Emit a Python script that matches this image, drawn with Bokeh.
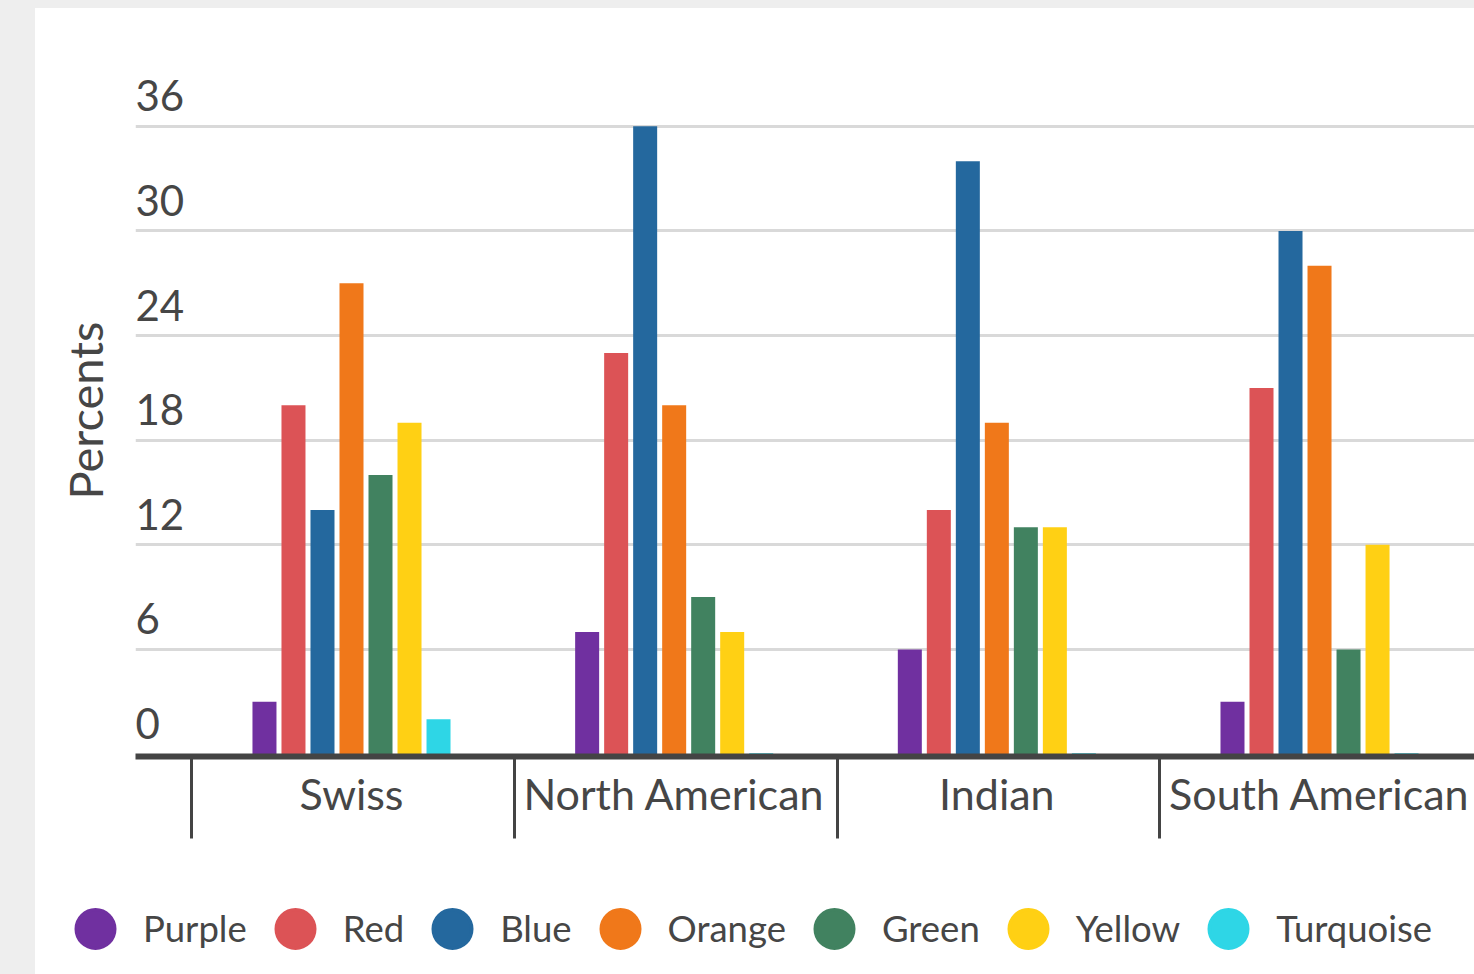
from bokeh.core.properties import value
from bokeh.embed import file_html
from bokeh.layouts import column
from bokeh.models import (ColumnDataSource, FixedTicker, Grid, Legend, LegendItem,
                          LinearAxis, Range1d, Title)
from bokeh.plotting import figure
from bokeh.resources import INLINE
from bokeh.transform import dodge

# ---- data -----------------------------------------------------------------
cuisines = ["Swiss", "North American", "Indian", "South American"]
series = ["Purple", "Red", "Blue", "Orange", "Green", "Yellow", "Turquoise"]

purple = [3, 7, 6, 3]
red = [20, 23, 14, 21]
blue = [14, 36, 34, 30]
orange = [27, 20, 19, 28]
green = [16, 9, 13, 6]
yellow = [19, 7, 13, 12]
turquoise = [2, 0.05, 0.05, 0.05]

colors = ["#7030a0", "#dc5356", "#24689e", "#f0781a", "#418260", "#ffd014", "#2ed6e6"]
y_ticks = [0, 6, 12, 18, 24, 30, 36]

# ---- styling ----------------------------------------------------------------
FONT = "Lato"
TEXT = "#464646"
AXIS = "#444444"
WIDTH = 1439
CHART_H = 850
LEGEND_H = 116

values = [purple, red, blue, orange, green, yellow, turquoise]
group_idx = list(range(len(cuisines)))

x_lo, x_hi = -0.6694, 3.4803
p = figure(width=WIDTH, height=CHART_H, output_backend="svg", toolbar_location=None,
           x_range=Range1d(x_lo, x_hi), y_range=Range1d(-0.1434, 42.76),
           x_axis_type=None, y_axis_type=None,
           min_border_left=100, min_border_right=0, min_border_top=0,
           min_border_bottom=102)
p.outline_line_color = None
p.background_fill_color = "white"
p.border_fill_color = "white"
p.frame_align = False

# horizontal grid lines
p.add_layout(Grid(dimension=1, ticker=FixedTicker(ticks=y_ticks[1:]),
                  grid_line_color="#d9d9d9", grid_line_width=3))

# grouped bars
step = 0.0899
bar_w = 0.0744
n = len(series)
src = ColumnDataSource(data=dict(g=group_idx, **{s: v for s, v in zip(series, values)}))
for k, (name, col) in enumerate(zip(series, colors)):
    off = (k - (n - 1) / 2) * step
    p.vbar(x=dodge("g", off, range=p.x_range), top=name, bottom=0, width=bar_w,
           source=src, fill_color=col, line_color=None)

# value labels sitting just above each grid line, flush with the plot's left edge
tick_src = ColumnDataSource(data=dict(x=[x_lo] * len(y_ticks), y=y_ticks,
                                      label=[str(t) for t in y_ticks]))
p.text(x="x", y=dodge("y", 0.889, range=p.y_range), text="label", source=tick_src,
       text_font=value(FONT), text_font_size="42px", text_color=TEXT,
       text_align="left", text_baseline="alphabetic", y_offset=-15)

# category axis: labels centred on groups, long separators between groups
xaxis = LinearAxis(
    ticker=FixedTicker(ticks=group_idx, minor_ticks=[i - 0.495 for i in group_idx]),
    major_label_overrides={i: c for i, c in zip(group_idx, cuisines)},
    axis_line_color=AXIS, axis_line_width=6,
    major_tick_line_color=None, major_tick_in=0, major_tick_out=0,
    minor_tick_line_color=AXIS, minor_tick_line_width=3,
    minor_tick_in=0, minor_tick_out=82,
    major_label_standoff=-71,
    major_label_text_font=FONT, major_label_text_font_size="43px",
    major_label_text_color=TEXT)
p.add_layout(xaxis, "below")

# vertical quantity title
p.add_layout(Title(text="Percents", align="left", vertical_align="top",
                   offset=257, standoff=41,
                   text_font=FONT, text_font_size="47px", text_font_style="normal",
                   text_color=TEXT), "left")

# legend strip with round swatches
leg = figure(width=WIDTH, height=LEGEND_H, output_backend="svg", toolbar_location=None,
             x_range=Range1d(0, 1), y_range=Range1d(0, 1),
             x_axis_type=None, y_axis_type=None,
             min_border_left=0, min_border_right=0, min_border_top=0, min_border_bottom=0)
leg.outline_line_color = None
leg.background_fill_color = "white"
leg.border_fill_color = "white"
leg.frame_align = False

items = []
for name, col in zip(series, colors):
    r = leg.scatter(x="g", y=name, source=src, marker="circle", size=42,
                    fill_color=col, line_color=col, line_width=3.6, visible=False)
    items.append(LegendItem(label=name, renderers=[r]))
legend = Legend(items=items, orientation="horizontal", location=(12, -6.5),
                glyph_width=96, glyph_height=105, label_standoff=0, spacing=0,
                padding=0, margin=0, border_line_color=None, background_fill_alpha=0,
                label_text_font=FONT, label_text_font_size="36.5px",
                label_text_color=TEXT, click_policy="none")
leg.add_layout(legend)

layout = column(p, leg, spacing=0, styles={"background-color": "white"})

html = file_html(layout, INLINE, title="Percents by cuisine")
page_css = ("<style>html,body{margin:0;background:#eeeeee;}"
            "body{padding:8px 0 0 35px;box-sizing:border-box;}</style>")
html = html.replace("</head>", page_css + "</head>", 1)
open("out.html", "w").write(html)
